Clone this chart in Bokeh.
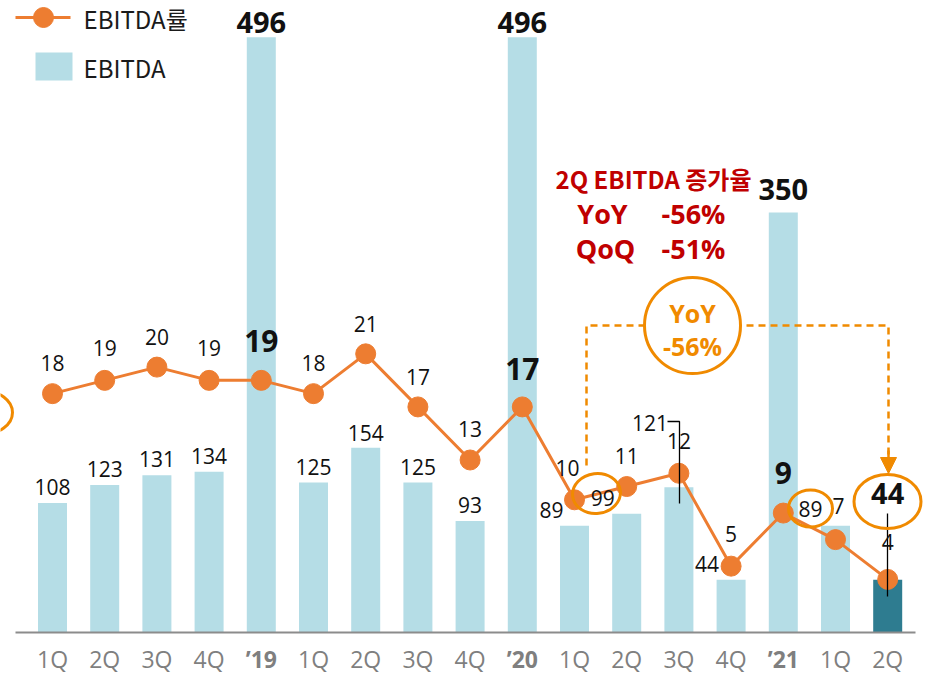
from bokeh.plotting import figure
from bokeh.models import Range1d, ColumnDataSource, Arrow, NormalHead
from bokeh.core.properties import value
from bokeh.embed import file_html
from bokeh.resources import INLINE

# ---------------- data ----------------
quarters = ["1Q", "2Q", "3Q", "4Q", "’19", "1Q", "2Q", "3Q", "4Q", "’20",
            "1Q", "2Q", "3Q", "4Q", "’21", "1Q", "2Q"]
is_year = [False, False, False, False, True, False, False, False, False, True,
           False, False, False, False, True, False, False]
ebitda = [108, 123, 131, 134, 496, 125, 154, 125, 93, 496, 89, 99, 121, 44, 350, 89, 44]
ebitda_rate = [18, 19, 20, 19, 19, 18, 21, 17, 13, 17, 10, 11, 12, 5, 9, 7, 4]
series_names = ["EBITDA률", "EBITDA"]

# label placement (pixel offsets) and emphasis
bar_lab_dx = [0, 0, 0, 0, 0, 0, 0, 0, 0, 0, -23, -24, -29, -24, 0, -25, 0]
bar_lab_dy = [-16, -16, -16, -16, -15, -16, -15, -16, -16, -15, -16, -16, -64, -16, -23, -17, -86]
bar_lab_bold = [False, False, False, False, True, False, False, False, False, True,
                False, False, False, False, True, False, True]
rate_lab_dx = [0, 0, 0, 0, 0, 0, 0, 0, 0, 0, -7, 0, 0, 0, 0, 3, 0]
rate_lab_dy = [-31, -32, -30, -32, -39, -31, -30, -30, -31, -38, -32, -31, -32, -32, -40, -34, -37]
rate_lab_bold = [False, False, False, False, True, False, False, False, False, True,
                 False, False, False, False, True, False, False]

# ---------------- geometry ----------------
W, H = 926, 674
PX_X = 52.2
BASE = 632
BAR_PX = 1.2
RATE_PX = 13.27
x0 = -52 / PX_X

def rx(refx):
    return (refx - 52) / PX_X

def ry(refy):
    return (BASE - refy) / BAR_PX

NUM_FONT = value("Open Sans")
KR_FONT = value("Noto Sans CJK KR")
LINE_C = "#ED7D31"
BAR_C = "#B5DDE6"
BAR_LAST = "#2E7C90"
ANN_C = "#F08A00"
RED = "#C00000"

p = figure(width=W, height=H, output_backend="svg", toolbar_location=None,
           x_range=Range1d(x0, x0 + W / PX_X),
           y_range=Range1d(-(H - BASE) / BAR_PX, BASE / BAR_PX),
           min_border=0, min_border_left=0, min_border_right=0,
           min_border_top=0, min_border_bottom=0)
p.extra_y_ranges = {"rate": Range1d(-(H - BASE) / RATE_PX, BASE / RATE_PX)}
p.xaxis.visible = False
p.yaxis.visible = False
p.xgrid.visible = False
p.ygrid.visible = False
p.outline_line_color = None
p.background_fill_color = "white"
p.border_fill_color = "white"

idx = list(range(len(quarters)))
bar_colors = [BAR_C] * (len(ebitda) - 1) + [BAR_LAST]
src = ColumnDataSource(dict(x=idx, ebitda=ebitda, rate=ebitda_rate, color=bar_colors))

bars = p.vbar(x="x", top="ebitda", width=29 / PX_X, fill_color="color", line_color=None, source=src)

# baseline
p.segment(x0=[rx(15)], y0=[0], x1=[rx(915)], y1=[0], line_color="#8C8C8C", line_width=2)

# left cut-off ellipse
p.ellipse(x=[rx(-18)], y=[ry(412)], width=60, height=44, width_units="screen",
          height_units="screen", fill_color=None, line_color=ANN_C, line_width=3)

# dashed bracket + arrow
yb = ry(325)
p.line(x=[rx(586), rx(586), rx(888), rx(888)], y=[ry(465), yb, yb, ry(458)],
       line_color=ANN_C, line_width=2.5, line_dash="7 5")
p.add_layout(Arrow(end=NormalHead(size=16, fill_color=ANN_C, line_color=ANN_C),
                   x_start=rx(888), y_start=ry(450), x_end=rx(888), y_end=ry(473),
                   line_color=ANN_C, line_width=2.5))

line = p.line(x="x", y="rate", y_range_name="rate", source=src, line_color=LINE_C, line_width=3)
pts = p.scatter(x="x", y="rate", y_range_name="rate", source=src, size=20,
                fill_color=LINE_C, line_color=LINE_C)

# leader lines
p.line(x=[rx(667), rx(679), rx(679)], y=[ry(421), ry(421), ry(503)], line_color="black", line_width=1.3)
p.line(x=[rx(887), rx(887)], y=[ry(513), ry(596)], line_color="black", line_width=1.3)

# ---------------- value labels ----------------
def label_src(vals, dxs, dys, mask, want):
    sel = [i for i in idx if mask[i] == want]
    return ColumnDataSource(dict(x=[i for i in sel], y=[vals[i] for i in sel],
                                 t=[str(vals[i]) for i in sel],
                                 dx=[dxs[i] for i in sel], dy=[dys[i] for i in sel]))

s = label_src(ebitda, bar_lab_dx, bar_lab_dy, bar_lab_bold, False)
p.text(x="x", y="y", text="t", x_offset="dx", y_offset="dy", source=s, text_font=NUM_FONT,
       text_font_size="21px", text_color="#111111", text_align="center", text_baseline="middle")
s = label_src(ebitda, bar_lab_dx, bar_lab_dy, bar_lab_bold, True)
p.text(x="x", y="y", text="t", x_offset="dx", y_offset="dy", source=s, text_font=NUM_FONT,
       text_font_size="29px", text_font_style="bold", text_color="#111111",
       text_align="center", text_baseline="middle")

s = label_src(ebitda_rate, rate_lab_dx, rate_lab_dy, rate_lab_bold, False)
p.text(x="x", y="y", text="t", x_offset="dx", y_offset="dy", source=s, y_range_name="rate",
       text_font=NUM_FONT, text_font_size="21px", text_color="#111111",
       text_align="center", text_baseline="middle")
s = label_src(ebitda_rate, rate_lab_dx, rate_lab_dy, rate_lab_bold, True)
p.text(x="x", y="y", text="t", x_offset="dx", y_offset="dy", source=s, y_range_name="rate",
       text_font=NUM_FONT, text_font_size="30px", text_font_style="bold", text_color="#111111",
       text_align="center", text_baseline="middle")

# ellipses around highlighted values
p.ellipse(x=[rx(596), rx(810), rx(887)], y=[ry(493), ry(508), ry(501)],
          width=[48, 44, 67], height=[40, 37, 54], width_units="screen", height_units="screen",
          angle=[0.12, 0.0, 0.0], fill_color=None, line_color=ANN_C, line_width=3)

# YoY circle
p.circle(x=[rx(692)], y=[yb], radius=48, radius_units="screen", fill_color="white",
         line_color=ANN_C, line_width=3)
p.text(x=[rx(692), rx(692)], y=[ry(312), ry(345)], text=["YoY", "-56%"], text_font=NUM_FONT,
       text_font_size="25px", text_font_style="bold", text_color=ANN_C,
       text_align="center", text_baseline="middle")

# red annotation
p.text(x=[rx(653)], y=[ry(178)], text=["2Q EBITDA 증가율"], text_font=KR_FONT,
       text_font_size="24px", text_font_style="bold", text_color=RED,
       text_align="center", text_baseline="middle")
p.text(x=[rx(602), rx(693), rx(605), rx(693)], y=[ry(213), ry(213), ry(248), ry(248)],
       text=["YoY", "-56%", "QoQ", "-51%"], text_font=NUM_FONT,
       text_font_size="27px", text_font_style="bold", text_color=RED,
       text_align="center", text_baseline="middle")

# ---------------- category labels ----------------
tick_y = ry(658)
reg = [i for i in idx if not is_year[i]]
yrs = [i for i in idx if is_year[i]]
p.text(x=reg, y=[tick_y] * len(reg), text=[quarters[i] for i in reg], text_font=NUM_FONT,
       text_font_size="23px", text_color="#7F7F7F", text_align="center", text_baseline="middle")
p.text(x=yrs, y=[tick_y] * len(yrs), text=[quarters[i] for i in yrs], text_font=NUM_FONT,
       text_font_size="23px", text_font_style="bold", text_color="#7F7F7F",
       text_align="center", text_baseline="middle")

# ---------------- legend (drawn) ----------------
p.line(x=[rx(15), rx(70)], y=[ry(17), ry(17)], line_color=LINE_C, line_width=3)
p.scatter(x=[rx(43)], y=[ry(17)], size=20, fill_color=LINE_C, line_color=LINE_C)
p.quad(left=[rx(35)], right=[rx(72)], top=[ry(52)], bottom=[ry(80)], fill_color=BAR_C, line_color=None)
p.text(x=[rx(83), rx(83)], y=[ry(18), ry(67)], text=series_names, text_font=KR_FONT,
       text_font_size="24px", text_color="#1A1A1A", text_align="left", text_baseline="middle")

open("out.html", "w").write(file_html(p, INLINE))
